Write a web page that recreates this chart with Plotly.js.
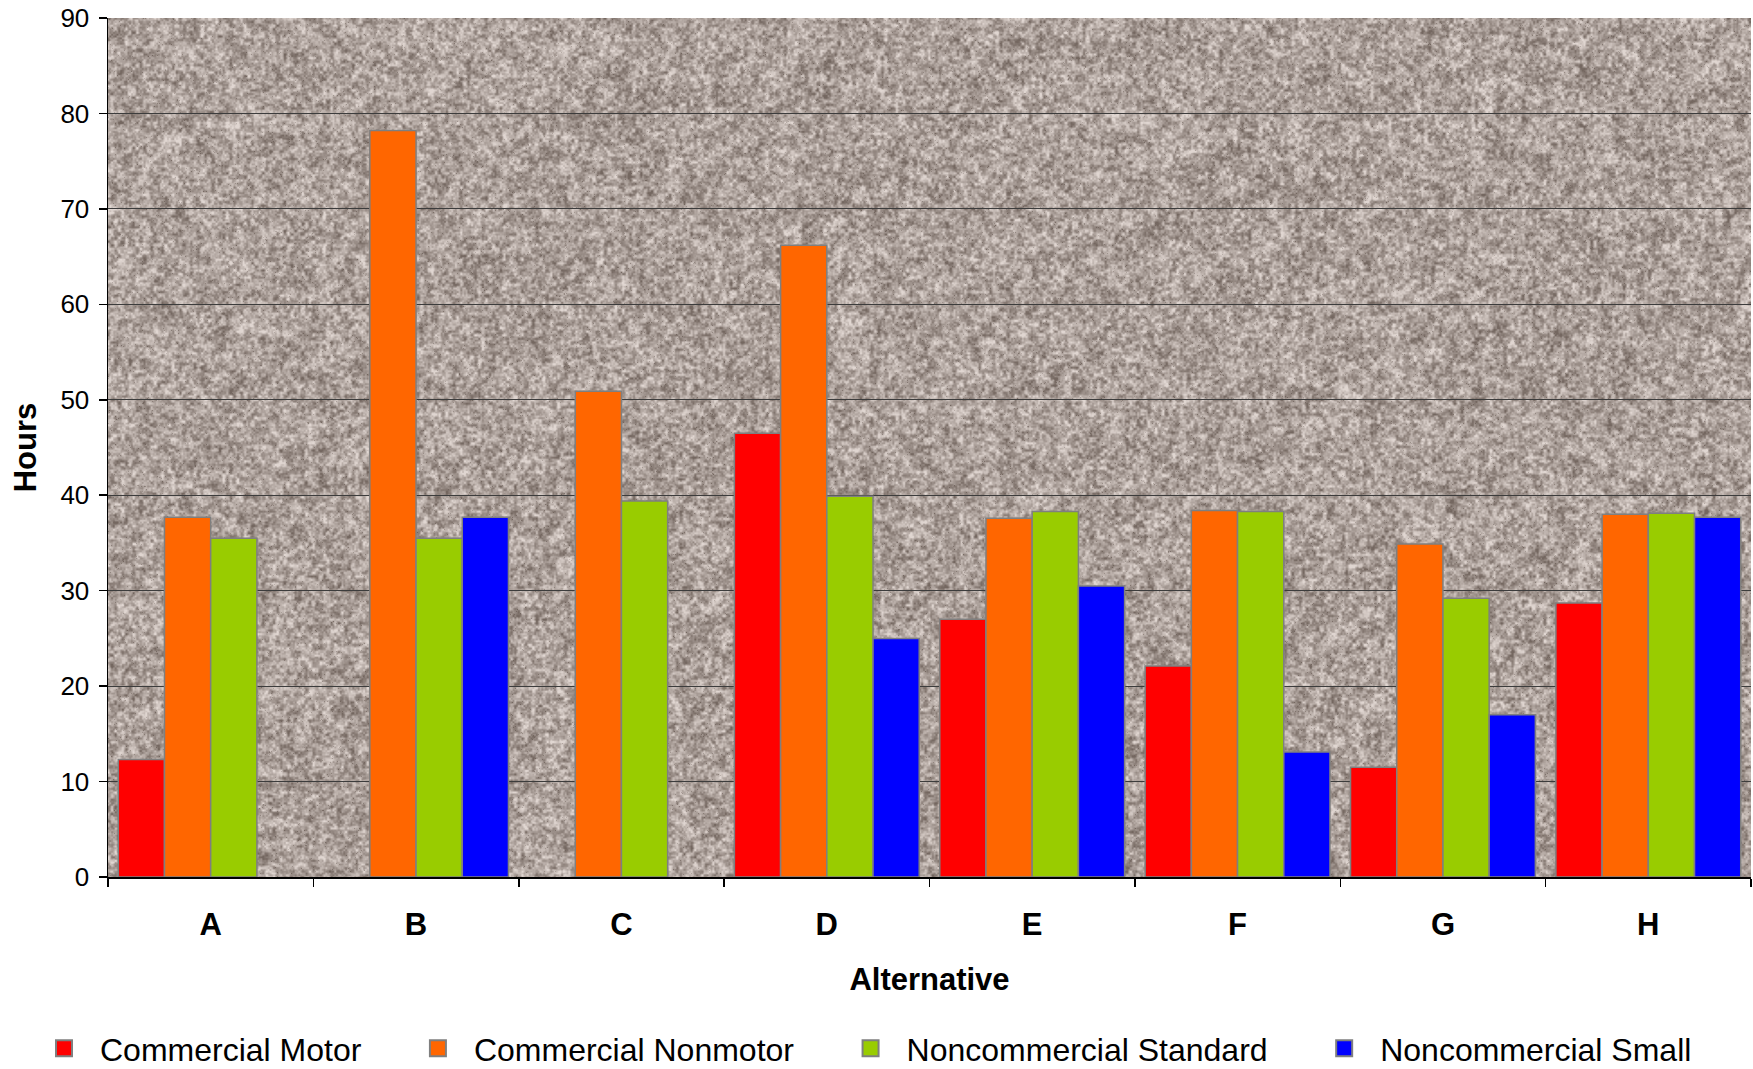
<!DOCTYPE html>
<html>
<head>
<meta charset="utf-8">
<script src="https://cdn.plot.ly/plotly-3.0.1.min.js"></script>
<style>
html,body{margin:0;padding:0;background:#fff;}
#chart{width:1753px;height:1069px;}
</style>
</head>
<body>
<div id="chart"></div>
<script>
// ---- data ----
var categories = ["A","B","C","D","E","F","G","H"];
var commercialMotor       = [12.3, null, null, 46.5, 27.0, 22.1, 11.5, 28.7];
var commercialNonmotor    = [37.7, 78.2, 50.9, 66.2, 37.6, 38.4, 34.9, 38.0];
var noncommercialStandard = [35.5, 35.5, 39.4, 39.9, 38.3, 38.3, 29.2, 38.1];
var noncommercialSmall    = [null, 37.7, null, 25.0, 30.5, 13.1, 17.0, 37.7];
var seriesNames = ["Commercial Motor","Commercial Nonmotor","Noncommercial Standard","Noncommercial Small"];
var yTicks = [0,10,20,30,40,50,60,70,80,90];

// ---- granite-like background texture (deterministic, decorative only) ----
function hash(x, y) {
  var h = Math.imul(x, 374761393) + Math.imul(y, 668265263) | 0;
  h = Math.imul(h ^ (h >>> 13), 1274126177);
  h = h ^ (h >>> 16);
  return (h >>> 0) / 4294967295;
}
function vnoise(x, y) {
  var xi = Math.floor(x), yi = Math.floor(y);
  var xf = x - xi, yf = y - yi;
  var u = xf * xf * (3 - 2 * xf), v = yf * yf * (3 - 2 * yf);
  var a = hash(xi, yi), b = hash(xi + 1, yi), c = hash(xi, yi + 1), d = hash(xi + 1, yi + 1);
  return a + (b - a) * u + (c - a) * v + (a - b - c + d) * u * v;
}
function makeTexture(w, h) {
  var cv = document.createElement('canvas');
  cv.width = w; cv.height = h;
  var ctx = cv.getContext('2d');
  var img = ctx.createImageData(w, h);
  var dk = [116, 103, 96], lt = [224, 214, 209];
  for (var y = 0; y < h; y++) {
    for (var x = 0; x < w; x++) {
      var n = 0.5 * vnoise(x / 3.6, y / 3.6) + 0.3 * vnoise(x / 1.8 + 50, y / 1.8 + 50) + 0.2 * vnoise(x / 12 + 99, y / 12 + 7);
      n = (n - 0.5) * 1.45 + 0.52;
      var s = hash(x + 7000, y + 3000);
      if (s < 0.01) n -= 0.3;
      if (n < 0) n = 0; if (n > 1) n = 1;
      var i = (y * w + x) * 4;
      img.data[i]     = dk[0] + (lt[0] - dk[0]) * n;
      img.data[i + 1] = dk[1] + (lt[1] - dk[1]) * n;
      img.data[i + 2] = dk[2] + (lt[2] - dk[2]) * n;
      img.data[i + 3] = 255;
    }
  }
  ctx.putImageData(img, 0, 0);
  return cv.toDataURL('image/png');
}

var FONT = '"Liberation Sans", Arial, Helvetica, sans-serif';
var colors = ['#FF0000', '#FF6600', '#99CC00', '#0000FF'];
var values = [commercialMotor, commercialNonmotor, noncommercialStandard, noncommercialSmall];
var PAD = '\u00a0\u00a0\u00a0\u00a0';

var traces = values.map(function (vals, k) {
  return {
    type: 'bar',
    name: seriesNames[k],
    x: categories,
    y: vals,
    showlegend: false,
    marker: {color: colors[k], line: {color: '#7F7F7F', width: 1.5}},
    hoverinfo: 'x+y+name'
  };
});
// legend entries (no plotted points; larger square swatches like the original)
seriesNames.forEach(function (nm, k) {
  traces.push({
    type: 'scatter',
    mode: 'markers',
    name: nm + (k < seriesNames.length - 1 ? PAD : ''),
    x: [null], y: [null],
    showlegend: true,
    marker: {symbol: 'square', size: 18, color: colors[k], line: {color: '#7F7F7F', width: 2}},
    hoverinfo: 'skip'
  });
});

var plotW = 1753 - 108 - 2, plotH = 1069 - 18 - 192;
var texture = makeTexture(plotW, plotH);

var layout = {
  width: 1753,
  height: 1069,
  margin: {l: 108, r: 2, t: 18, b: 192, autoexpand: false},
  paper_bgcolor: '#FFFFFF',
  plot_bgcolor: '#A89C96',
  font: {family: FONT, color: '#000000', size: 26},
  barmode: 'group',
  bargap: 0.1,
  bargroupgap: 0,
  showlegend: true,
  legend: {
    orientation: 'h',
    xref: 'paper', yref: 'paper',
    x: -0.0487, y: -0.1995,
    xanchor: 'left', yanchor: 'middle',
    font: {family: FONT, size: 32, color: '#000'},
    itemwidth: 62,
    traceorder: 'normal',
    bgcolor: 'rgba(0,0,0,0)'
  },
  xaxis: {
    type: 'category',
    range: [-0.5, 7.5],
    showline: true, linecolor: '#000', linewidth: 1.5,
    ticks: 'outside', ticklen: 8, tickcolor: '#000', tickwidth: 1.5,
    tickson: 'boundaries',
    showgrid: false,
    tickfont: {family: FONT, size: 31, color: '#000', weight: 'bold'},
    ticklabelstandoff: 19,
    title: {text: '<b>Alternative</b>', font: {family: FONT, size: 31, color: '#000'}, standoff: 27},
    automargin: false,
    fixedrange: true
  },
  yaxis: {
    range: [0, 90],
    tickvals: yTicks,
    ticktext: yTicks.map(String),
    showline: true, linecolor: '#000', linewidth: 1.5,
    ticks: 'outside', ticklen: 8, tickcolor: '#000', tickwidth: 1.5,
    showgrid: true, gridcolor: '#3C3C3C', gridwidth: 1,
    zeroline: false,
    tickfont: {family: FONT, size: 26, color: '#000'},
    ticklabelstandoff: 4,
    title: {text: '<b>Hours</b>', font: {family: FONT, size: 31, color: '#000'}, standoff: 14},
    automargin: false,
    fixedrange: true
  },
  images: [{
    source: texture,
    xref: 'paper', yref: 'paper',
    x: 0, y: 1, sizex: 1, sizey: 1,
    xanchor: 'left', yanchor: 'top',
    sizing: 'stretch',
    layer: 'below'
  }]
};

Plotly.newPlot('chart', traces, layout, {displayModeBar: false, staticPlot: true});
</script>
</body>
</html>
